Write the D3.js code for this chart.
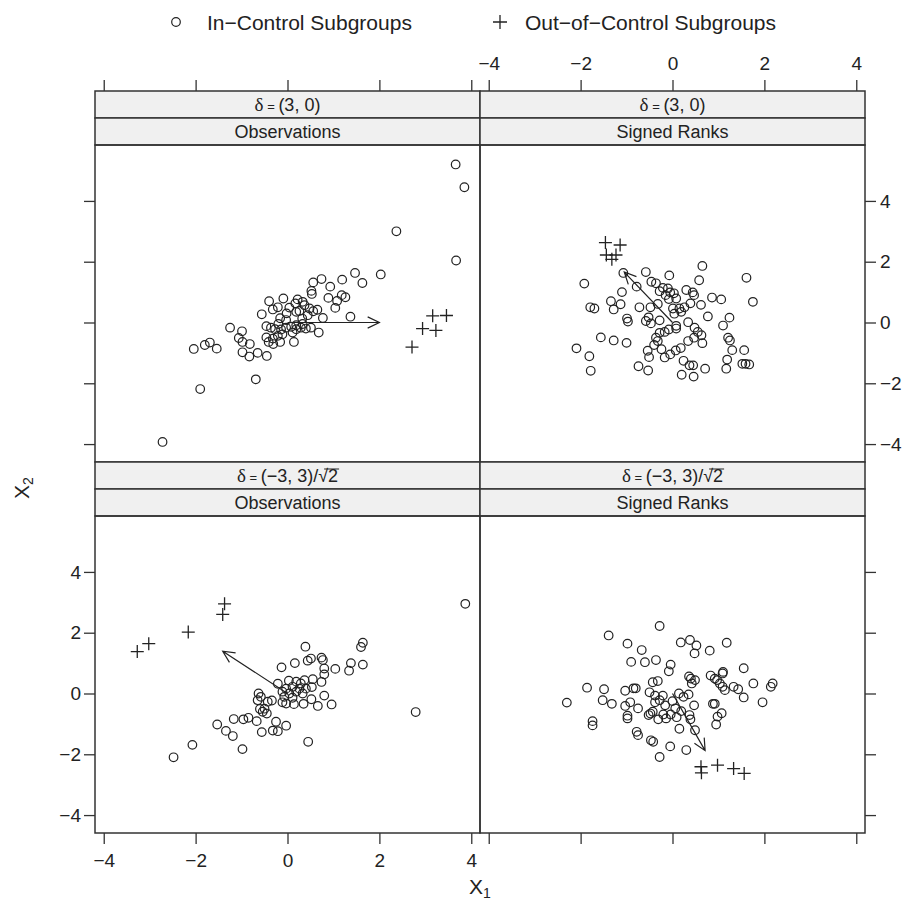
<!DOCTYPE html>
<html lang="en">
<head>
<meta charset="UTF-8">
<title>Observations vs Signed Ranks</title>
<script src="https://d3js.org/d3.v7.min.js"></script>
<style>
    body { margin: 0; background: #fff; }
    svg { display: block; font-family: "Liberation Sans", Arial, sans-serif; }
</style>
</head>
<body>
<div id="chart"></div>
<script>
// panel titles (strip rows)
const shiftLabels = ["δ = (3, 0)", "δ = (−3, 3)/√2"];
const typeLabels = ["Observations", "Signed Ranks"];
const tickValues = [-4, -2, 0, 2, 4];

// delta = (3, 0), observations
const obsA_in = [[3.66,5.2],[3.85,4.45],[2.37,3.0],[3.67,2.04],[2.03,1.58],[1.47,1.63],[1.19,1.41],[1.63,1.30],
  [0.74,1.43],[0.56,1.32],[0.93,1.18],[0.52,1.04],[0.53,0.94],[1.18,0.90],[1.26,0.83],[0.89,0.81],[1.08,0.71],
  [1.04,0.48],[0.65,0.42],[0.77,0.15],[1.37,0.19],[0.22,0.76],[0.33,0.68],[0.37,0.57],[0.48,0.46],[0.17,0.63],
  [0.04,0.49],[-0.09,0.79],[-0.40,0.70],[-0.21,0.50],[-0.32,0.43],[-0.56,0.27],[-0.02,0.30],[-0.16,0.14],
  [0.19,0.35],[0.32,0.13],[0.44,0.24],[-0.46,-0.12],[-0.36,-0.17],[-0.27,-0.22],[-0.14,-0.23],[-0.03,-0.17],
  [0.08,-0.14],[0.19,-0.22],[0.29,-0.17],[0.40,-0.20],[0.51,-0.17],[0.68,-0.33],[0.11,-0.33],[-0.11,-0.39],
  [-0.21,-0.44],[-0.46,-0.49],[-0.41,-0.64],[-0.31,-0.71],[-0.16,-0.64],[0.14,-0.64],[-0.45,-1.1],[-0.69,-1.87],
  [-0.65,-1.0],[-0.83,-1.12],[-0.98,-0.98],[-0.82,-0.71],[-0.98,-0.64],[-1.06,-0.51],[-0.99,-0.29],[-1.25,-0.17],
  [-1.54,-0.86],[-1.69,-0.66],[-1.80,-0.74],[-2.04,-0.87],[-1.90,-2.19],[-2.72,-3.93],[0.26,0.38],[-0.03,0.08],
  [-0.20,-0.05],[0.19,-0.09],[0.33,-0.05],[-0.32,-0.53],[0.56,0.37]];
const obsA_out = [[3.16,0.22],[3.46,0.23],[2.94,-0.20],[3.23,-0.26],[2.71,-0.81]];

// delta = (3, 0), signed ranks
const rankA_in = [[-1.07,1.63],[-0.58,1.66],[-0.07,1.55],[0.65,1.86],[0.58,1.39],[1.61,1.47],[1.75,0.68],
  [-1.92,1.28],[-0.78,1.18],[-1.10,1.00],[-0.46,1.34],[-0.36,1.29],[-0.21,1.14],[-0.10,1.12],[-0.28,1.03],
  [-0.05,0.99],[0.03,0.96],[-0.15,0.90],[0.30,1.07],[0.44,0.99],[0.47,0.90],[0.08,0.79],[-0.08,0.77],[0.86,0.82],
  [1.06,0.76],[-1.34,0.70],[-1.13,0.60],[-1.79,0.50],[-1.70,0.46],[-1.28,0.43],[-0.72,0.50],[-0.48,0.50],
  [-0.32,0.61],[0.62,0.58],[0.01,0.46],[0.15,0.46],[0.26,0.50],[0.39,0.63],[0.04,0.29],[0.19,0.35],[0.77,0.20],
  [1.24,0.16],[1.10,-0.10],[-0.99,0.13],[-0.97,0.03],[-0.58,0.05],[-0.52,0.17],[-0.47,-0.03],[-0.28,0.07],
  [0.08,-0.11],[0.08,-0.20],[0.34,0.01],[0.48,-0.17],[0.55,-0.31],[0.63,-0.42],[-0.08,-0.23],[-0.28,-0.34],
  [-0.17,-0.31],[-0.36,-0.50],[-0.32,-0.61],[-0.40,-0.74],[-0.24,-0.88],[-0.54,-0.93],[-0.51,-1.14],[-0.17,-1.15],
  [-0.05,-1.05],[0.07,-0.92],[0.18,-0.84],[0.34,-0.61],[0.47,-0.50],[0.65,-0.68],[-1.56,-0.49],[-1.28,-0.59],
  [-1.00,-0.67],[-2.09,-0.85],[-1.81,-1.11],[-1.78,-1.59],[-0.74,-1.44],[-0.53,-1.58],[0.24,-1.26],[0.37,-1.41],
  [0.45,-1.41],[0.71,-1.52],[0.20,-1.72],[0.46,-1.78],[1.21,-0.50],[1.25,-0.59],[1.30,-0.91],[1.56,-0.91],
  [1.19,-1.22],[1.17,-1.52],[1.52,-1.36],[1.59,-1.36],[1.67,-1.38]];
const rankA_out = [[-1.46,2.63],[-1.14,2.55],[-1.44,2.22],[-1.23,2.22],[-1.32,2.08]];

// delta = (-3, 3)/sqrt(2), observations
const obsB_in = [[3.87,2.95],[2.79,-0.61],[0.39,1.54],[1.64,1.67],[1.60,1.53],[1.64,0.95],[1.38,1.00],[1.34,0.75],
  [1.04,0.81],[0.80,0.82],[0.74,1.18],[0.77,1.10],[0.51,1.15],[0.44,1.08],[0.16,1.00],[-0.13,0.86],[0.80,0.63],
  [0.74,0.38],[0.55,0.47],[0.53,0.21],[0.80,-0.07],[0.96,-0.36],[0.66,-0.41],[0.52,-0.19],[0.35,-0.34],
  [0.14,-0.35],[-0.21,0.32],[0.03,0.42],[0.19,0.39],[0.29,0.33],[0.37,0.44],[0.40,0.16],[0.26,0.16],[0.11,0.22],
  [-0.03,0.16],[-0.11,0.06],[0.04,0.00],[0.19,0.06],[0.33,0.00],[-0.07,-0.11],[-0.11,-0.29],[-0.03,-0.33],
  [0.11,-0.14],[-0.63,0.00],[-0.58,-0.11],[-0.65,-0.22],[-0.34,-0.23],[-0.43,-0.27],[-0.60,-0.51],[-0.54,-0.60],
  [-0.45,-0.66],[-0.50,-0.50],[-1.17,-0.84],[-0.96,-0.85],[-0.85,-0.80],[-0.67,-0.91],[-0.25,-0.93],[-0.03,-1.06],
  [-0.32,-1.22],[-0.21,-1.24],[-0.56,-1.27],[-1.53,-1.02],[-1.34,-1.23],[-1.19,-1.40],[-2.07,-1.69],[-2.48,-2.10],
  [-0.98,-1.83],[0.45,-1.59]];
const obsB_out = [[-3.27,1.38],[-3.02,1.64],[-2.16,2.02],[-1.37,2.95],[-1.41,2.60]];

// delta = (-3, 3)/sqrt(2), signed ranks
const rankB_in = [[-0.28,2.22],[-1.39,1.91],[-0.98,1.64],[-0.67,1.43],[0.18,1.68],[0.38,1.76],[0.52,1.58],
  [0.48,1.32],[0.81,1.41],[1.18,1.67],[-0.90,1.04],[-0.60,1.03],[-0.36,1.10],[-0.04,0.95],[-0.08,0.73],[1.55,0.83],
  [1.10,0.71],[1.09,0.66],[0.36,0.56],[0.40,0.49],[0.49,0.44],[0.42,0.33],[0.83,0.59],[0.92,0.49],[0.97,0.44],
  [1.03,0.33],[1.09,0.22],[1.14,0.11],[1.33,0.22],[1.43,0.14],[1.76,0.33],[2.18,0.33],[2.14,0.22],[1.55,-0.13],
  [1.96,-0.29],[-0.43,0.37],[-0.32,0.41],[-1.86,0.19],[-1.49,0.14],[-1.03,0.09],[-0.85,0.17],[-0.80,0.17],
  [-0.50,0.04],[-0.38,-0.07],[-0.21,-0.07],[0.14,0.00],[0.35,-0.03],[0.24,-0.11],[-1.52,-0.22],[-1.32,-0.34],
  [-2.30,-0.30],[-1.03,-0.41],[-0.92,-0.29],[-0.75,-0.49],[-0.38,-0.29],[-0.28,-0.22],[-0.16,-0.39],[0.00,-0.25],
  [0.06,-0.49],[0.19,-0.58],[0.47,-0.39],[0.88,-0.34],[0.92,-0.34],[1.07,-0.65],[0.98,-0.76],[0.95,-1.02],
  [-0.98,-0.73],[-0.98,-0.82],[-0.52,-0.71],[-0.48,-0.66],[-0.43,-0.60],[-0.31,-0.85],[-0.20,-0.69],[-0.14,-0.82],
  [-0.04,-0.69],[0.09,-0.78],[0.37,-0.71],[0.39,-0.85],[0.49,-1.21],[0.15,-1.16],[-1.74,-0.91],[-1.74,-1.05],
  [-0.78,-1.26],[-0.75,-1.37],[-0.47,-1.54],[-0.42,-1.59],[-0.05,-1.74],[0.30,-1.86],[-0.28,-2.09]];
const rankB_out = [[0.62,-2.41],[0.63,-2.61],[0.98,-2.36],[1.33,-2.47],[1.56,-2.63]];

// arrow tips (arrows start at the origin)
const arrowTips = [[2.0, 0], [-1.05, 1.66], [-1.41, 1.39], [0.71, -1.88]];

const panels = [
    { row: 0, col: 0, inC: obsA_in, outC: obsA_out, arrow: arrowTips[0] },
    { row: 0, col: 1, inC: rankA_in, outC: rankA_out, arrow: arrowTips[1] },
    { row: 1, col: 0, inC: obsB_in, outC: obsB_out, arrow: arrowTips[2] },
    { row: 1, col: 1, inC: rankB_in, outC: rankB_out, arrow: arrowTips[3] }
];

const width = 907, height = 907;
const ink = "#222";
const frame = "#333";

// panel geometry
const colX = [[95, 480], [480, 865]];
const rowTop = [91, 462];
const stripH = 27;
const panelH = 317;

const xDomain = [-4.19, 4.19];
const yDomain = [-4.59, 5.84];

const svg = d3.select("#chart").append("svg")
    .attr("width", width)
    .attr("height", height);

function xScale(col) {
    return d3.scaleLinear().domain(xDomain).range(colX[col]);
}
function yScale(row) {
    const top = rowTop[row] + 2 * stripH;
    return d3.scaleLinear().domain(yDomain).range([top + panelH, top]);
}

// panels
panels.forEach(p => {
    const x = xScale(p.col), y = yScale(p.row);
    const g = svg.append("g");
    const [x0, x1] = colX[p.col];
    const top = rowTop[p.row];

    // strips
    [shiftLabels[p.row], typeLabels[p.col]].forEach((lab, i) => {
        g.append("rect")
            .attr("x", x0).attr("y", top + i * stripH)
            .attr("width", x1 - x0).attr("height", stripH)
            .attr("fill", "#f0f0f0")
            .attr("stroke", frame).attr("stroke-width", 1.5);
        const t = g.append("text")
            .attr("x", (x0 + x1) / 2)
            .attr("y", top + i * stripH + stripH / 2 + 6.5)
            .attr("text-anchor", "middle")
            .attr("font-size", 18)
            .attr("fill", ink);
        if (i === 0) {
            t.append("tspan").attr("font-family", "Liberation Serif, serif").attr("font-size", 19).text("δ");
            t.append("tspan").attr("font-size", 13).text(" = ");
            const rest = lab.slice(4);
            t.append("tspan").text(rest);
            // overline for the square root
            const s = t.text();
            const k = s.lastIndexOf("2");
            if (lab.includes("√")) {
                const box = t.node().getExtentOfChar(k);
                const r = t.node().getExtentOfChar(k - 1);
                g.append("line")
                    .attr("x1", r.x + r.width * 0.6).attr("x2", box.x + box.width + 1)
                    .attr("y1", box.y + 3).attr("y2", box.y + 3)
                    .attr("stroke", ink).attr("stroke-width", 1);
            }
        } else {
            t.text(lab);
        }
    });

    // plot frame
    g.append("rect")
        .attr("x", x0).attr("y", top + 2 * stripH)
        .attr("width", x1 - x0).attr("height", panelH)
        .attr("fill", "none")
        .attr("stroke", frame).attr("stroke-width", 1.5);

    // arrow from the origin
    const ax = x(0), ay = y(0), bx = x(p.arrow[0]), by = y(p.arrow[1]);
    const ang = Math.atan2(by - ay, bx - ax);
    const hl = 13, ha = Math.PI / 7;
    g.append("path")
        .attr("d", `M${ax},${ay}L${bx},${by}` +
            `M${bx - hl * Math.cos(ang - ha)},${by - hl * Math.sin(ang - ha)}L${bx},${by}` +
            `L${bx - hl * Math.cos(ang + ha)},${by - hl * Math.sin(ang + ha)}`)
        .attr("fill", "none").attr("stroke", ink).attr("stroke-width", 1.2);

    // in-control subgroups
    g.append("g").selectAll("circle")
        .data(p.inC)
        .join("circle")
        .attr("cx", d => x(d[0]))
        .attr("cy", d => y(d[1]))
        .attr("r", 4.3)
        .attr("fill", "none")
        .attr("stroke", ink)
        .attr("stroke-width", 1.2);

    // out-of-control subgroups
    g.append("g").selectAll("path")
        .data(p.outC)
        .join("path")
        .attr("d", d => {
            const cx = x(d[0]), cy = y(d[1]), s = 6.5;
            return `M${cx - s},${cy}H${cx + s}M${cx},${cy - s}V${cy + s}`;
        })
        .attr("stroke", ink)
        .attr("stroke-width", 1.3);
});

// axes
function styleAxis(g) {
    g.select(".domain").remove();
    g.selectAll(".tick line").attr("stroke", frame).attr("stroke-width", 1.3);
    g.selectAll(".tick text").attr("fill", ink).attr("font-size", 19)
        .attr("font-family", "Liberation Sans, Arial, sans-serif");
}
const fmt = d => d < 0 ? "−" + Math.abs(d) : String(d);
const none = () => "";

[0, 1].forEach(col => {
    // top
    svg.append("g").attr("transform", `translate(0,${rowTop[0]})`)
        .call(d3.axisTop(xScale(col)).tickValues(tickValues).tickSize(11).tickPadding(10)
            .tickFormat(col === 1 ? fmt : none))
        .call(styleAxis);
    // bottom
    svg.append("g").attr("transform", `translate(0,${rowTop[1] + 2 * stripH + panelH})`)
        .call(d3.axisBottom(xScale(col)).tickValues(tickValues).tickSize(11).tickPadding(10)
            .tickFormat(col === 0 ? fmt : none))
        .call(styleAxis);
});
[0, 1].forEach(row => {
    svg.append("g").attr("transform", `translate(${colX[0][0]},0)`)
        .call(d3.axisLeft(yScale(row)).tickValues(tickValues).tickSize(11).tickPadding(3)
            .tickFormat(row === 1 ? fmt : none))
        .call(styleAxis);
    svg.append("g").attr("transform", `translate(${colX[1][1]},0)`)
        .call(d3.axisRight(yScale(row)).tickValues(tickValues).tickSize(11).tickPadding(4)
            .tickFormat(row === 0 ? fmt : none))
        .call(styleAxis);
});

// axis titles
const xt = svg.append("text")
    .attr("x", 480).attr("y", 894)
    .attr("text-anchor", "middle").attr("font-size", 21).attr("fill", ink);
xt.append("tspan").text("X");
xt.append("tspan").attr("font-size", 14).attr("dy", 4).text("1");

const yt = svg.append("text")
    .attr("transform", "translate(29,488) rotate(-90)")
    .attr("text-anchor", "middle").attr("font-size", 21).attr("fill", ink);
yt.append("tspan").text("X");
yt.append("tspan").attr("font-size", 14).attr("dy", 4).text("2");

// legend
const leg = svg.append("g");
leg.append("circle").attr("cx", 176).attr("cy", 22).attr("r", 4.3)
    .attr("fill", "none").attr("stroke", ink).attr("stroke-width", 1.2);
leg.append("text").attr("x", 207).attr("y", 29.5).attr("font-size", 21).attr("fill", ink)
    .text("In−Control Subgroups");
leg.append("path").attr("d", "M493,22H507M500,15V29").attr("stroke", ink).attr("stroke-width", 1.3);
leg.append("text").attr("x", 525).attr("y", 29.5).attr("font-size", 21).attr("fill", ink)
    .text("Out−of−Control Subgroups");
</script>
</body>
</html>
